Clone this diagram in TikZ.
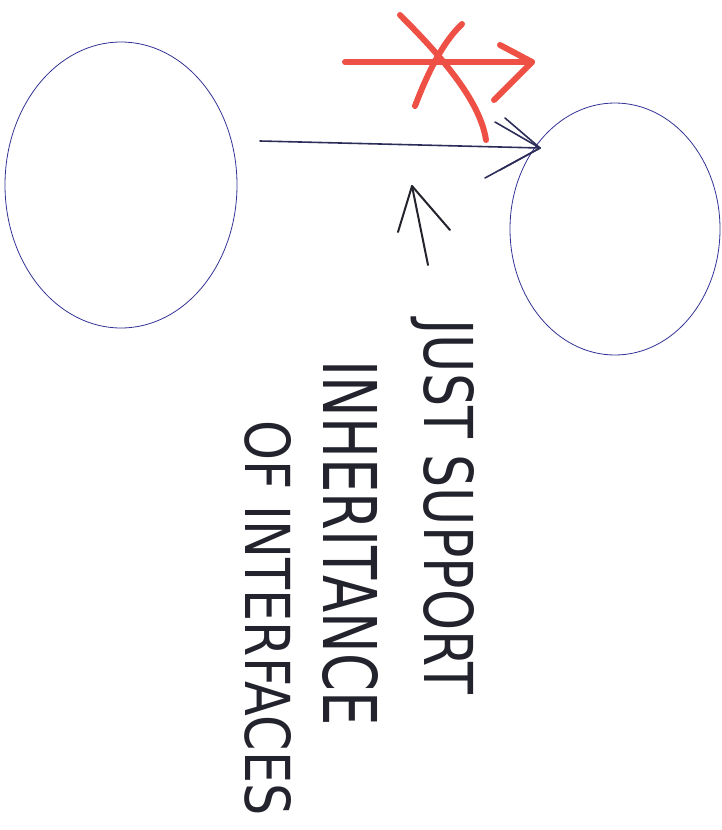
\documentclass[tikz,border=0pt]{standalone}
\usepackage{fontspec}
\setsansfont{DejaVu Sans}
\usetikzlibrary{arrows.meta,shapes.geometric}
\definecolor{inkblue}{RGB}{50,50,150}
\definecolor{inknavy}{RGB}{45,45,90}
\definecolor{inkred}{RGB}{238,80,70}
\definecolor{inkblack}{RGB}{35,35,45}
\begin{document}
\begin{tikzpicture}[x=1pt,y=-1pt,
  blob/.style={draw=inkblue,line width=0.8pt},
  redstroke/.style={draw=inkred,line width=6pt,line cap=round,line join=round},
  uml/.style={draw=inknavy,line width=1.6pt,line cap=round,line join=round},
  hand/.style={inner sep=0pt,rotate=-90,text=inkblack}]
\useasboundingbox (0,0) rectangle (721,830);
% two classes
\node[blob,ellipse,minimum width=232pt,minimum height=286pt] (A) at (121,185) {};
\node[blob,ellipse,minimum width=210pt,minimum height=252pt] (B) at (615,229) {};
\coordinate (Aend) at (260,141);
\coordinate (Btip) at (540,148);
% inheritance arrow
\draw[uml] (Aend) -- (Btip);
\draw[uml] (495,122) -- (Btip) -- (485,178);
\draw[uml] (505,118) -- (Btip) -- (500,170);
% crossed out red arrow
\coordinate (r1) at (345,62);
\coordinate (r2) at (532,62);
\draw[redstroke] (r1) -- (r2);
\draw[redstroke] (500,45) -- (r2) -- (494,100);
\draw[redstroke] (400,15) .. controls (440,55) and (480,100) .. (486,140);
\draw[redstroke] (462,24) .. controls (440,45) and (425,80) .. (415,106);
% pointer arrow
\coordinate (p1) at (428,265);
\coordinate (p2) at (412,186);
\draw[draw=inkblack,line width=2pt,line cap=round,line join=round] (p1) -- (p2);
\draw[draw=inkblack,line width=2pt,line cap=round,line join=round] (398,232) -- (p2) -- (450,230);
% note text
\node[hand] (t1) at (443,507) {\resizebox{375pt}{50pt}{\sffamily JUST SUPPORT}};
\node[hand] (t2) at (350,543) {\resizebox{365pt}{55pt}{\sffamily INHERITANCE}};
\node[hand] (t3) at (268,618) {\resizebox{395pt}{46pt}{\sffamily OF INTERFACES}};
\end{tikzpicture}
\end{document}
